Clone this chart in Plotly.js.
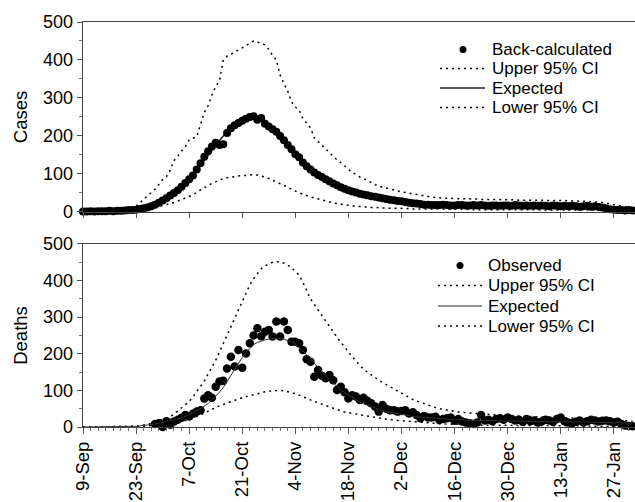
<!DOCTYPE html>
<html>
<head>
<meta charset="utf-8">
<script src="https://cdn.plot.ly/plotly-3.0.1.min.js"></script>
<style>html,body{margin:0;padding:0;background:#fff;}#chart{width:635px;height:502px;}</style>
</head>
<body>
<div id="chart"></div>
<script>
// ---- data (daily, starting 9-Sep) ----
var tickLabels = ['9-Sep','23-Sep','7-Oct','21-Oct','4-Nov','18-Nov','2-Dec','16-Dec','30-Dec','13-Jan','27-Jan'];
var topLegendNames = ['Back-calculated','Upper 95% CI','Expected','Lower 95% CI'];
var bottomLegendNames = ['Observed','Upper 95% CI','Expected','Lower 95% CI'];

// Top panel: cases
var casesBackCalc = [
1,1,2,1,2,2,2,3,2,3,
3,4,5,5,6,8,10,12,15,19,
24,30,36,43,50,57,66,76,86,96,
112,128,145,160,172,182,176,178,208,220,
228,234,240,245,250,252,243,247,232,225,
218,211,200,189,176,165,152,144,130,120,
112,104,97,92,86,81,75,70,65,61,
57,54,51,48,46,44,41,40,38,36,
34,32,31,29,28,26,24,23,22,21,
19,19,18,18,18,19,18,17,17,18,
18,17,17,18,17,18,17,16,17,17,
16,17,17,16,18,17,16,17,16,17,
16,17,16,15,17,16,15,16,15,16,
15,14,15,16,14,15,13,12,10,7,
6,5,5,4,5,4];
var casesExpected = [
1,1,1,1,2,2,2,2,3,3,
3,4,4,5,6,8,10,12,15,19,
23,29,35,42,50,58,67,76,86,97,
110,124,138,152,165,177,188,200,210,219,
227,234,240,244,247,248,246,242,236,228,
219,209,198,187,176,165,154,144,134,124,
115,107,99,92,86,80,75,70,65,61,
57,54,51,48,46,44,41,39,37,35,
34,32,30,29,27,26,24,23,22,21,
20,19,19,18,18,18,18,18,18,18,
18,17,17,17,17,17,17,17,17,17,
17,17,17,17,17,17,17,17,16,16,
16,16,16,16,16,16,15,15,15,15,
15,15,15,15,14,14,13,12,10,8,
6,5,5,5,4,4];
var casesUpper = [
1,1,1,1,1,2,2,2,3,3,
4,5,7,10,15,24,32,40,50,60,
72,85,93,110,135,148,160,172,190,195,
198,230,262,280,308,330,345,400,410,415,
420,425,432,438,445,450,447,444,440,428,
412,400,360,338,318,290,276,268,245,234,
222,195,185,175,165,155,146,137,130,120,
112,105,98,92,88,82,77,72,68,65,
62,60,57,55,53,51,49,47,45,43,
41,40,39,38,37,36,36,36,35,35,
35,35,34,34,34,33,33,33,33,32,
32,32,32,32,32,31,31,31,31,31,
31,31,30,30,30,30,30,30,29,29,
29,29,28,28,27,27,26,25,23,21,
18,16,14,13,12,11];
var casesLower = [
0,0,0,0,0,0,1,1,1,1,
1,2,2,3,4,5,7,8,10,12,
14,16,19,22,25,29,33,38,42,45,
52,58,64,70,75,79,84,88,90,92,
94,95,96,96,97,98,97,95,92,88,
84,80,76,70,65,59,55,50,46,42,
40,37,34,31,28,26,24,22,20,19,
17,16,15,14,13,13,12,12,11,11,
10,10,10,9,9,9,9,8,8,8,
8,8,8,7,7,7,7,7,7,7,
7,7,6,6,6,6,6,6,6,6,
6,6,6,6,6,6,6,6,6,6,
6,5,5,5,5,5,5,5,5,5,
5,5,5,5,5,5,5,4,4,3,
3,3,2,2,2,2];

// Bottom panel: deaths
var deathsObserved = [
null,null,null,null,null,null,null,null,null,null,
null,null,null,null,null,null,null,null,null,8,
10,0,16,6,15,20,25,33,29,36,
42,46,78,87,80,110,124,126,160,192,
165,210,162,201,229,250,270,248,260,265,
247,288,247,288,265,233,233,229,210,185,
178,137,156,140,133,142,128,101,110,95,
78,87,83,74,80,72,65,56,42,60,
50,46,46,42,44,46,37,40,33,24,
30,26,26,28,19,22,24,26,17,22,
15,12,10,8,12,33,18,20,16,22,
24,20,26,22,18,20,14,22,16,18,
12,15,20,18,14,22,26,16,12,10,
14,18,12,16,20,18,15,17,18,16,
12,14,8,4,3,2];
var deathsExpected = [
0,0,0,0,0,0,0,0,0,1,
1,1,1,2,2,3,4,5,6,8,
10,12,14,16,19,22,25,29,33,38,
44,50,56,64,74,84,95,108,125,140,
158,175,190,204,216,225,231,235,238,240,
241,242,242,240,237,232,226,218,208,197,
185,173,162,151,140,130,120,111,102,94,
87,80,74,68,63,59,55,51,48,45,
42,40,38,36,34,32,31,29,28,27,
26,25,24,23,22,22,21,21,20,20,
19,19,19,18,18,18,18,17,17,17,
17,17,16,16,16,16,16,15,15,15,
15,15,15,15,14,14,14,14,14,14,
14,13,13,13,13,13,13,12,12,12,
12,12,11,11,11,11];
var deathsUpper = [
0,0,0,0,0,0,0,0,0,0,
0,1,1,2,2,3,5,6,9,12,
16,20,24,29,35,44,52,61,70,82,
96,110,126,145,162,182,205,228,250,275,
300,322,345,368,388,405,420,432,440,446,
450,452,451,448,442,435,425,415,395,372,
350,335,320,303,290,275,260,245,232,218,
205,192,180,169,158,150,142,135,128,122,
115,110,104,98,92,86,80,75,71,67,
63,60,56,53,50,48,46,44,43,41,
40,39,38,37,36,35,34,34,33,33,
32,32,31,31,30,30,29,29,28,28,
27,27,27,26,26,26,25,25,25,24,
24,23,23,22,22,21,21,20,20,19,
19,18,17,17,16,15];
var deathsLower = [
0,0,0,0,0,0,0,0,0,0,
0,0,1,1,1,2,2,3,4,4,
5,6,7,9,10,12,14,17,20,24,
28,33,38,43,49,53,58,62,66,70,
73,77,80,83,86,89,91,94,96,98,
99,100,100,99,97,94,91,87,82,78,
74,70,66,62,58,54,50,47,44,41,
39,37,35,33,31,29,27,25,24,22,
21,20,19,18,17,16,15,14,13,12,
11,10,10,9,9,8,8,8,7,7,
7,6,6,6,6,5,5,5,5,5,
5,5,4,4,4,4,4,4,4,4,
4,3,3,3,3,3,3,3,3,3,
3,3,3,3,3,2,2,2,2,2,
2,2,2,2,2,2];

// ---- build dates ----
var DAY = 86400000;
var t0 = Date.UTC(2009, 8, 9);
function iso(ms){ var d = new Date(ms); return d.toISOString().slice(0,19).replace('T',' '); }
var dates = casesBackCalc.map(function(_, i){ return iso(t0 + i*DAY); });
var tickVals = tickLabels.map(function(_, i){ return iso(t0 + i*14*DAY); });

var FONT = 'Liberation Sans, Arial, Helvetica, sans-serif';
var BLACK = '#000';
var DOT = '2px,4px';
var dotLine = {color: BLACK, width: 1.5, dash: DOT};

var traces = [
  {x: dates, y: casesUpper, xaxis:'x', yaxis:'y', mode:'lines', name:'Upper 95% CI', line: dotLine},
  {x: dates, y: casesLower, xaxis:'x', yaxis:'y', mode:'lines', name:'Lower 95% CI', line: dotLine},
  {x: dates, y: casesExpected, xaxis:'x', yaxis:'y', mode:'lines', name:'Expected', line: {color:'#222', width:1.5}},
  {x: dates, y: casesBackCalc, xaxis:'x', yaxis:'y', mode:'markers', name:'Back-calculated', marker:{color:BLACK, size:8}, cliponaxis:false},

  {x: dates, y: deathsUpper, xaxis:'x2', yaxis:'y2', mode:'lines', name:'Upper 95% CI', line: dotLine},
  {x: dates, y: deathsLower, xaxis:'x2', yaxis:'y2', mode:'lines', name:'Lower 95% CI', line: dotLine},
  {x: dates, y: deathsObserved, xaxis:'x2', yaxis:'y2', mode:'markers', name:'Observed', marker:{color:BLACK, size:8.5}, cliponaxis:false},
  {x: dates, y: deathsExpected, xaxis:'x2', yaxis:'y2', mode:'lines', name:'Expected', line: {color:'#333', width:1}}
];

var xRange = [iso(t0), iso(t0 + 145.6*DAY)];

function yAxis(domain, title){
  return {
    domain: domain, range: [0, 500], tickvals: [0,100,200,300,400,500],
    ticks: 'outside', ticklen: 5, tickwidth: 1, tickcolor: '#555',
    minor: {tickvals: [50,150,250,350,450], ticks:'outside', ticklen: 3, tickcolor:'#777', showgrid:false},
    showline: true, linecolor: '#444', linewidth: 1.3, mirror: false,
    showgrid: false, zeroline: false, fixedrange: true,
    tickfont: {family: FONT, size: 18, color: BLACK},
    title: {text: title, font: {family: FONT, size: 18.5, color: BLACK}, standoff: 10},
    automargin: false
  };
}

// ---- manual legends (pixel positions converted to paper coords) ----
var L = 83, W = 552, T = 22, H = 405;
function px(x){ return (x - L) / W; }
function py(y){ return (T + H - y) / H; }
var shapes = [], annotations = [];
function addLegend(names, rows, lineX0, lineX1, dotX, textX, dotSize, expWidth){
  names.forEach(function(name, i){
    var y = rows[i];
    if (i === 0) {
      shapes.push({type:'circle', xref:'paper', yref:'paper', xsizemode:'pixel', ysizemode:'pixel',
        xanchor: px(dotX), yanchor: py(y), x0: -dotSize/2, x1: dotSize/2, y0: -dotSize/2, y1: dotSize/2,
        fillcolor: BLACK, line:{width:0}});
    } else {
      var ln = (i === 2) ? {color:'#222', width: expWidth} : {color: BLACK, width: 1.5, dash: DOT};
      shapes.push({type:'line', xref:'paper', yref:'paper', x0: px(lineX0), x1: px(lineX1), y0: py(y), y1: py(y), line: ln});
    }
    annotations.push({xref:'paper', yref:'paper', x: px(textX), y: py(y), xanchor:'left', yanchor:'middle',
      text: name, showarrow: false, font:{family: FONT, size: 17, color: BLACK}});
  });
}
addLegend(topLegendNames, [49.5, 68.5, 88, 107.5], 440, 485, 463, 489.5, 7, 1.5);
addLegend(bottomLegendNames, [265.5, 285.5, 306, 326], 438, 482, 460, 486, 7, 1);

var layout = {
  width: 635, height: 502,
  margin: {l: L, r: 0, t: T, b: 75},
  paper_bgcolor: '#fff', plot_bgcolor: '#fff',
  showlegend: false,
  font: {family: FONT, size: 17, color: BLACK},
  xaxis: {
    anchor: 'y', type: 'date', range: xRange,
    tickvals: tickVals, showticklabels: false,
    ticks: 'outside', ticklen: 5, tickcolor: '#555',
    showline: true, linecolor: '#444', linewidth: 1.3, mirror: true,
    showgrid: false, zeroline: false, automargin: false
  },
  yaxis: yAxis([0.531, 1], 'Cases'),
  xaxis2: {
    anchor: 'y2', type: 'date', range: xRange,
    tickvals: tickVals, ticktext: tickLabels, tickangle: -90,
    tickfont: {family: FONT, size: 18.5, color: BLACK},
    ticks: 'outside', ticklen: 6, tickcolor: '#555',
    minor: {dtick: 2*DAY, tick0: iso(t0), ticks: 'outside', ticklen: 3, tickcolor: '#777', showgrid:false},
    showline: true, linecolor: '#444', linewidth: 1.3, mirror: true,
    showgrid: false, zeroline: false, automargin: false
  },
  yaxis2: yAxis([0, 0.452], 'Deaths'),
  shapes: shapes,
  annotations: annotations
};

Plotly.newPlot('chart', traces, layout, {displayModeBar: false, staticPlot: true});
</script>
</body>
</html>
